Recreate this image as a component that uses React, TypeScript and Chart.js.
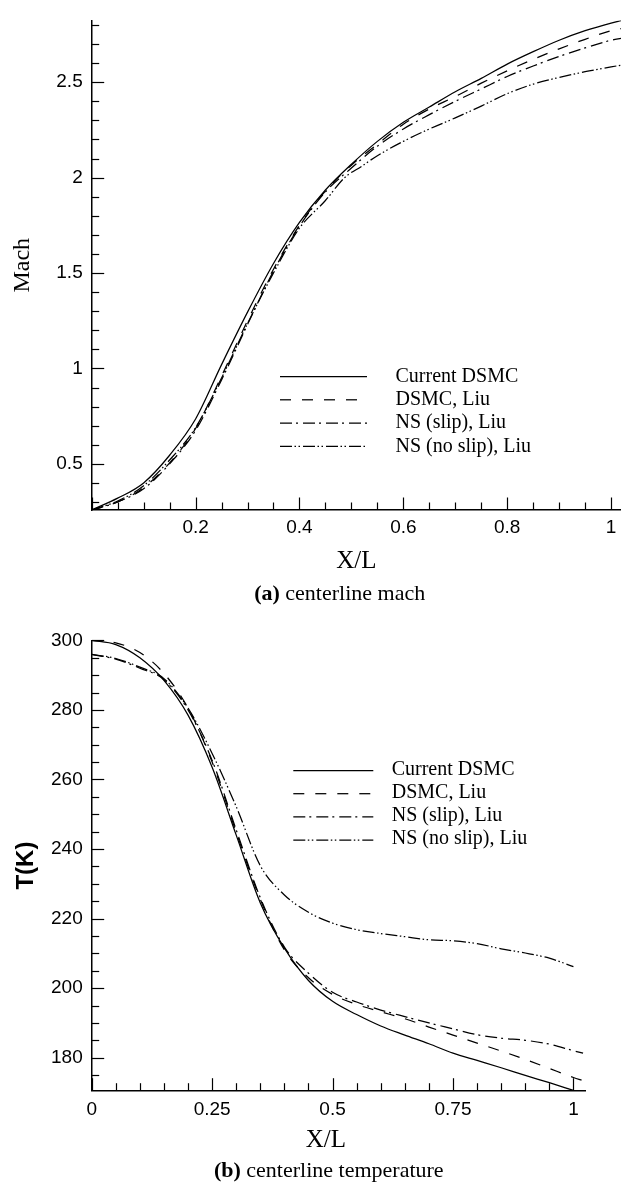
import React, { useEffect, useRef } from 'react';
import { Chart, registerables } from 'chart.js';

Chart.register(...registerables);

// ---------- (a) centerline Mach ----------
const machX = [0, 0.05, 0.1, 0.15, 0.2, 0.25, 0.3, 0.35, 0.4, 0.45, 0.5, 0.55, 0.6, 0.65, 0.7, 0.75, 0.8, 0.85, 0.9, 0.95, 1.0, 1.02];
const machCurrentDSMC = [0.258, 0.32, 0.4, 0.545, 0.735, 1.02, 1.295, 1.55, 1.765, 1.935, 2.07, 2.19, 2.29, 2.37, 2.45, 2.52, 2.595, 2.66, 2.72, 2.77, 2.81, 2.823];
const machDSMCLiu = [0.258, 0.3, 0.375, 0.505, 0.685, 0.96, 1.25, 1.52, 1.75, 1.93, 2.065, 2.175, 2.28, 2.36, 2.425, 2.495, 2.56, 2.62, 2.675, 2.725, 2.77, 2.781];
const machNSSlip = [0.258, 0.3, 0.37, 0.5, 0.675, 0.94, 1.23, 1.51, 1.745, 1.925, 2.05, 2.165, 2.255, 2.33, 2.4, 2.465, 2.53, 2.585, 2.635, 2.68, 2.72, 2.73];
const machNoSlipX = [0, 0.05, 0.1, 0.15, 0.2, 0.25, 0.3, 0.35, 0.4, 0.45, 0.487, 0.52, 0.55, 0.6, 0.65, 0.7, 0.75, 0.8, 0.85, 0.9, 0.95, 1.0, 1.02];
const machNSNoSlip = [0.258, 0.305, 0.385, 0.52, 0.69, 0.95, 1.235, 1.5, 1.735, 1.88, 2.0, 2.06, 2.115, 2.19, 2.255, 2.313, 2.375, 2.44, 2.49, 2.525, 2.555, 2.58, 2.59];

// ---------- (b) centerline temperature ----------
const tempX = [0, 0.05, 0.1, 0.15, 0.2, 0.25, 0.3, 0.35, 0.4, 0.45, 0.5, 0.55, 0.6, 0.65, 0.7, 0.75, 0.8, 0.85, 0.9, 0.95, 1.0, 1.02];
const tempCurrentDSMC = [300, 298.8, 295.0, 288.5, 278.5, 263.5, 244.0, 224.5, 211.5, 202.2, 196.2, 192.4, 189.1, 186.5, 184.0, 181.3, 179.2, 177.1, 174.9, 172.8, 170.6];
const tempDSMCLiu = [300, 299.3, 296.5, 290.5, 280.5, 265.0, 244.8, 225.5, 211.0, 203.0, 198.2, 195.3, 193.2, 191.2, 188.8, 186.5, 184.2, 181.9, 179.5, 176.9, 174.3, 173.4];
const tempNSSlip = [296, 294.6, 292.0, 288.7, 280.0, 265.5, 245.5, 226.0, 211.8, 204.3, 198.8, 196.0, 193.7, 191.8, 190.0, 188.3, 186.6, 185.6, 185.0, 183.9, 182.0, 181.3];
const tempNSNoSlip = [296, 294.8, 292.3, 289.0, 280.5, 267.5, 252.2, 235.2, 226.8, 221.8, 218.7, 216.8, 215.7, 214.8, 213.9, 213.6, 212.8, 211.3, 210.1, 208.6, 206.2];

const seriesLabels = ['Current DSMC', 'DSMC, Liu', 'NS (slip), Liu', 'NS (no slip), Liu'];

const SERIF = '"Liberation Serif", "Times New Roman", Times, serif';
const SANS = '"Liberation Sans", Arial, Helvetica, sans-serif';

const DASHES: number[][] = [[], [11, 11], [12, 4, 2, 5], [12, 2.5, 1.5, 2.5, 1.5, 3]];

const isMult = (v: number, m: number) => Math.abs(v / m - Math.round(v / m)) < 1e-6;
const fmt = (v: number) => String(parseFloat(v.toFixed(3)));

const pts = (xs: number[], ys: number[]) => ys.map((y, i) => ({ x: xs[i], y }));

const makeDataset = (i: number, data: { x: number; y: number }[]) => ({
  label: seriesLabels[i],
  data,
  borderColor: '#000',
  backgroundColor: '#000',
  borderWidth: 1.25,
  borderDash: DASHES[i],
  pointRadius: 0,
  fill: false,
  cubicInterpolationMode: 'monotone' as const,
});

const inwardTicks = {
  id: 'inwardTicks',
  afterDraw(chart: any, _args: any, opts: any) {
    const { ctx, chartArea } = chart;
    const xs = chart.scales.x;
    const ys = chart.scales.y;
    ctx.save();
    ctx.strokeStyle = '#000';
    ctx.lineWidth = 1.2;
    xs.ticks.forEach((t: any) => {
      const px = Math.round(xs.getPixelForValue(t.value)) + 0.5;
      const len = isMult(t.value, opts.xMajor) ? 12.5 : 7.5;
      ctx.beginPath();
      ctx.moveTo(px, chartArea.bottom);
      ctx.lineTo(px, chartArea.bottom - len);
      ctx.stroke();
    });
    ys.ticks.forEach((t: any) => {
      const py = Math.round(ys.getPixelForValue(t.value)) + 0.5;
      const len = isMult(t.value, opts.yMajor) ? 12.5 : 7.5;
      ctx.beginPath();
      ctx.moveTo(chartArea.left, py);
      ctx.lineTo(chartArea.left + len, py);
      ctx.stroke();
    });
    ctx.restore();
  },
};

const lineLegend = {
  id: 'lineLegend',
  afterDraw(chart: any, _args: any, opts: any) {
    const { ctx } = chart;
    chart.data.datasets.forEach((ds: any, i: number) => {
      const y = opts.y + i * opts.gap;
      ctx.save();
      ctx.strokeStyle = ds.borderColor;
      ctx.lineWidth = ds.borderWidth;
      ctx.setLineDash(ds.borderDash || []);
      ctx.beginPath();
      ctx.moveTo(opts.x0, y + opts.lineDy);
      ctx.lineTo(opts.x1, y + opts.lineDy);
      ctx.stroke();
      ctx.setLineDash([]);
      ctx.fillStyle = '#000';
      ctx.font = opts.font;
      ctx.textBaseline = 'middle';
      ctx.textAlign = 'left';
      ctx.fillText(ds.label, opts.tx, y);
      ctx.restore();
    });
  },
};

function machConfig(): any {
  return {
    type: 'line',
    data: {
      datasets: [
        makeDataset(0, pts(machX, machCurrentDSMC)),
        makeDataset(1, pts(machX, machDSMCLiu)),
        makeDataset(2, pts(machX, machNSSlip)),
        makeDataset(3, pts(machNoSlipX, machNSNoSlip)),
      ],
    },
    plugins: [inwardTicks, lineLegend],
    options: {
      animation: false,
      responsive: false,
      maintainAspectRatio: false,
      layout: { padding: { top: 14.3, left: 0, right: 0, bottom: 0 } },
      plugins: {
        legend: { display: false },
        tooltip: { enabled: false },
        inwardTicks: { xMajor: 0.2, yMajor: 0.5 },
        lineLegend: { x0: 280, x1: 367, tx: 395.5, y: 376.5, gap: 23.3, lineDy: 0, font: `20px ${SERIF}` },
      },
      scales: {
        x: {
          type: 'linear',
          min: 0,
          max: 1.019,
          ticks: {
            stepSize: 0.05,
            autoSkip: false,
            includeBounds: false,
            maxRotation: 0,
            padding: 6.6,
            color: '#000',
            font: { family: SANS, size: 19 },
            callback: (v: number) => (v > 0 && isMult(v, 0.2) ? fmt(v) : ''),
          },
          grid: { display: false, drawTicks: false },
          border: { display: true, color: '#000', width: 1.5 },
          title: { display: true, text: 'X/L', color: '#000', font: { family: SERIF, size: 25 }, padding: { top: 0, bottom: 4 } },
          afterFit: (s: any) => { s.height = 70; },
        },
        y: {
          type: 'linear',
          min: 0.258,
          max: 2.824,
          ticks: {
            stepSize: 0.1,
            autoSkip: false,
            includeBounds: false,
            padding: 9,
            color: '#000',
            font: { family: SANS, size: 19 },
            callback: (v: number) => (isMult(v, 0.5) ? fmt(v) : ''),
          },
          grid: { display: false, drawTicks: false },
          border: { display: true, color: '#000', width: 1.5 },
          title: { display: true, text: 'Mach', color: '#000', font: { family: SERIF, size: 24 }, padding: { top: 8.1, bottom: 0 } },
          afterFit: (s: any) => { s.width = 91.7; },
        },
      },
    },
  };
}

function tempConfig(): any {
  return {
    type: 'line',
    data: {
      datasets: [
        makeDataset(0, pts(tempX, tempCurrentDSMC)),
        makeDataset(1, pts(tempX, tempDSMCLiu)),
        makeDataset(2, pts(tempX, tempNSSlip)),
        makeDataset(3, pts(tempX, tempNSNoSlip)),
      ],
    },
    plugins: [inwardTicks, lineLegend],
    options: {
      animation: false,
      responsive: false,
      maintainAspectRatio: false,
      layout: { padding: { top: 40.4, left: 0, right: 38, bottom: 0 } },
      plugins: {
        legend: { display: false },
        tooltip: { enabled: false },
        inwardTicks: { xMajor: 0.25, yMajor: 20 },
        lineLegend: { x0: 293.3, x1: 373.3, tx: 391.7, y: 169.5, gap: 23.2, lineDy: 1, font: `20px ${SERIF}` },
      },
      scales: {
        x: {
          type: 'linear',
          min: 0,
          max: 1.024,
          ticks: {
            stepSize: 0.05,
            autoSkip: false,
            includeBounds: false,
            maxRotation: 0,
            padding: 8,
            color: '#000',
            font: { family: SANS, size: 19 },
            callback: (v: number) => (isMult(v, 0.25) ? fmt(v) : ''),
          },
          grid: { display: false, drawTicks: false },
          border: { display: true, color: '#000', width: 1.5 },
          title: { display: true, text: 'X/L    ', color: '#000', font: { family: SERIF, size: 25 }, padding: { top: 0, bottom: 27 } },
          afterFit: (s: any) => { s.height = 91.3; },
        },
        y: {
          type: 'linear',
          min: 170.5,
          max: 300,
          ticks: {
            stepSize: 5,
            autoSkip: false,
            includeBounds: false,
            padding: 9,
            color: '#000',
            font: { family: SANS, size: 19 },
            callback: (v: number) => (isMult(v, 20) ? fmt(v) : ''),
          },
          grid: { display: false, drawTicks: false },
          border: { display: true, color: '#000', width: 1.5 },
          title: { display: true, text: 'T(K)', color: '#000', font: { family: SANS, size: 24, weight: 'bold' }, padding: { top: 11.6, bottom: 0 } },
          afterFit: (s: any) => { s.width = 91.7; },
        },
      },
    },
  };
}

function ChartCanvas({ config, top, height }: { config: () => any; top: number; height: number }) {
  const ref = useRef<HTMLCanvasElement | null>(null);
  useEffect(() => {
    if (!ref.current) return;
    const chart = new Chart(ref.current, config());
    return () => chart.destroy();
  }, [config]);
  return (
    <canvas
      ref={ref}
      width={623}
      height={height}
      style={{ position: 'absolute', left: 0, top, width: 623, height, display: 'block' }}
    />
  );
}

const captionStyle = (cx: number, top: number): React.CSSProperties => ({
  position: 'absolute',
  left: cx - 250,
  width: 500,
  top,
  height: 28,
  lineHeight: '28px',
  textAlign: 'center',
  fontFamily: SERIF,
  fontSize: 22,
  color: '#000',
  whiteSpace: 'nowrap',
});

export default function App() {
  return (
    <div style={{ position: 'absolute', left: 0, top: 0, width: 623, height: 1182, background: '#fff', overflow: 'hidden' }}>
      <ChartCanvas config={machConfig} top={0} height={580} />
      <ChartCanvas config={tempConfig} top={600} height={582} />
      <div style={captionStyle(339.7, 579.3)}>
        <b>(a)</b> centerline mach
      </div>
      <div style={captionStyle(328.8, 1156)}>
        <b>(b)</b> centerline temperature
      </div>
    </div>
  );
}
